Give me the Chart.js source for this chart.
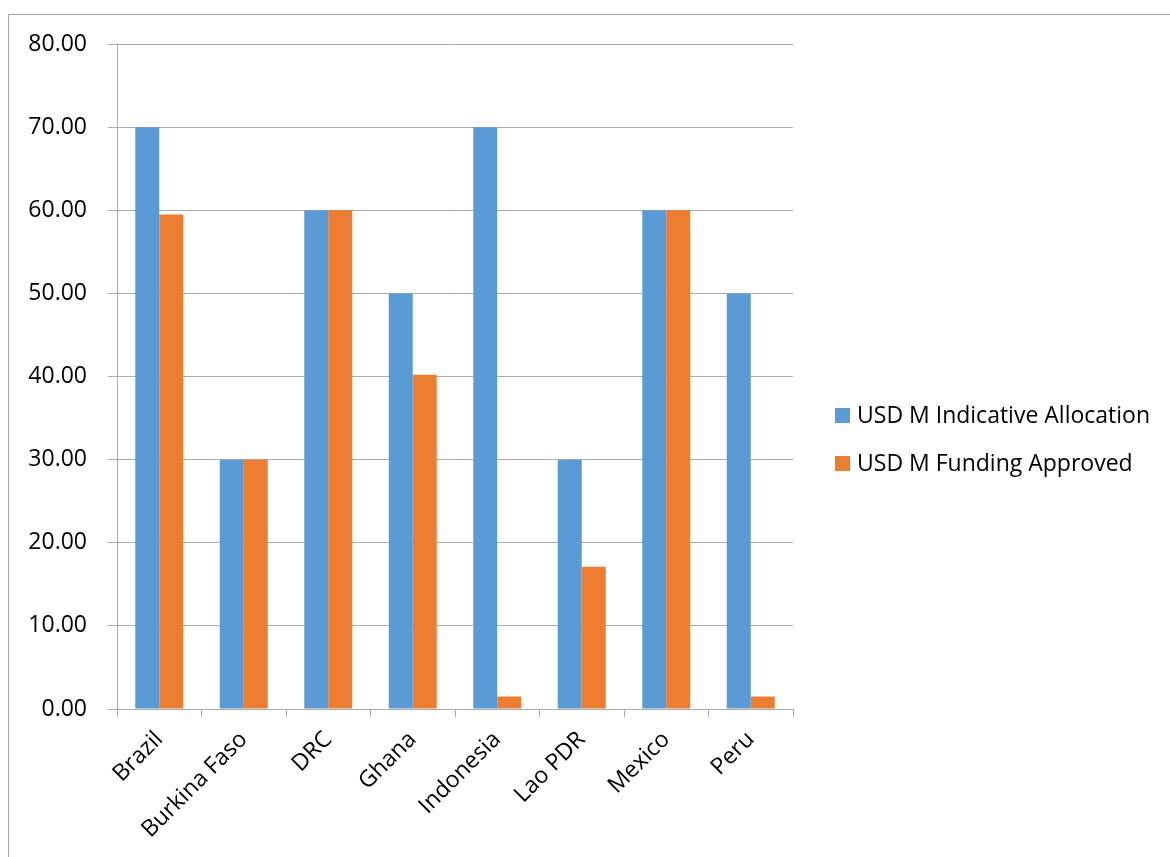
<!DOCTYPE html>
<html>
<head>
<meta charset="utf-8">
<script src="https://cdn.jsdelivr.net/npm/chart.js@4"></script>
<style>
  html, body { margin: 0; padding: 0; background: #fff; overflow: hidden; }
  #frame { position: absolute; left: 8px; top: 14px; width: 1200px; height: 900px; border: 1px solid #a6a6a6; }
  #chart { display: block; }
</style>
</head>
<body>
<div id="frame"><canvas id="chart" width="1200" height="900"></canvas></div>
<script>
var categories = ['Brazil', 'Burkina Faso', 'DRC', 'Ghana', 'Indonesia', 'Lao PDR', 'Mexico', 'Peru'];
var indicativeAllocation = [70, 30, 60, 50, 70, 30, 60, 50];
var fundingApproved = [59.5, 30, 60, 40.2, 1.5, 17.1, 60, 1.5];
var seriesNames = ['USD M Indicative Allocation', 'USD M Funding Approved'];
var yTicks = [0, 10, 20, 30, 40, 50, 60, 70, 80];

var fontFamily = '"Open Sans", "Liberation Sans", sans-serif';
var gridColor = '#ababab';

// legend drawn by hand so it sits where the original one does
var sideLegend = {
    id: 'sideLegend',
    afterDraw: function (chart) {
        var ctx = chart.ctx;
        ctx.save();
        ctx.font = '23px ' + fontFamily;
        ctx.textBaseline = 'middle';
        chart.data.datasets.forEach(function (ds, i) {
            var y = 400 + i * 48;
            ctx.fillStyle = ds.backgroundColor;
            ctx.fillRect(826, y - 7, 15, 15);
            ctx.fillStyle = '#000';
            ctx.fillText(ds.label, 848, y + 1);
        });
        ctx.restore();
    }
};

new Chart(document.getElementById('chart').getContext('2d'), {
    type: 'bar',
    data: {
        labels: categories,
        datasets: [{
            label: seriesNames[0],
            data: indicativeAllocation,
            backgroundColor: '#5b9bd5',
            borderWidth: 0
        }, {
            label: seriesNames[1],
            data: fundingApproved,
            backgroundColor: '#ed7d31',
            borderWidth: 0
        }]
    },
    options: {
        responsive: false,
        animation: false,
        layout: { padding: { top: 29, right: 416, bottom: 0, left: 0 } },
        plugins: {
            legend: { display: false },
            tooltip: { enabled: false }
        },
        datasets: {
            bar: { categoryPercentage: 0.568, barPercentage: 1 }
        },
        scales: {
            x: {
                afterFit: function (scale) { scale.height = 206; },
                grid: { offset: true, drawOnChartArea: false, drawTicks: true, tickLength: 8, color: gridColor },
                border: { color: gridColor },
                ticks: {
                    color: '#000',
                    font: { family: fontFamily, size: 23 },
                    maxRotation: 45,
                    minRotation: 45,
                    padding: 9,
                    autoSkip: false
                }
            },
            y: {
                min: 0,
                max: 80,
                afterFit: function (scale) { scale.width = 108; },
                afterBuildTicks: function (scale) {
                    scale.ticks = yTicks.map(function (v) { return { value: v }; });
                },
                grid: { color: gridColor, tickLength: 9 },
                border: { color: gridColor },
                ticks: {
                    color: '#000',
                    font: { family: fontFamily, size: 23, lineHeight: 0.6 },
                    padding: 21,
                    callback: function (v) { return Number(v).toFixed(2); }
                }
            }
        }
    },
    plugins: [sideLegend]
});
</script>
</body>
</html>
